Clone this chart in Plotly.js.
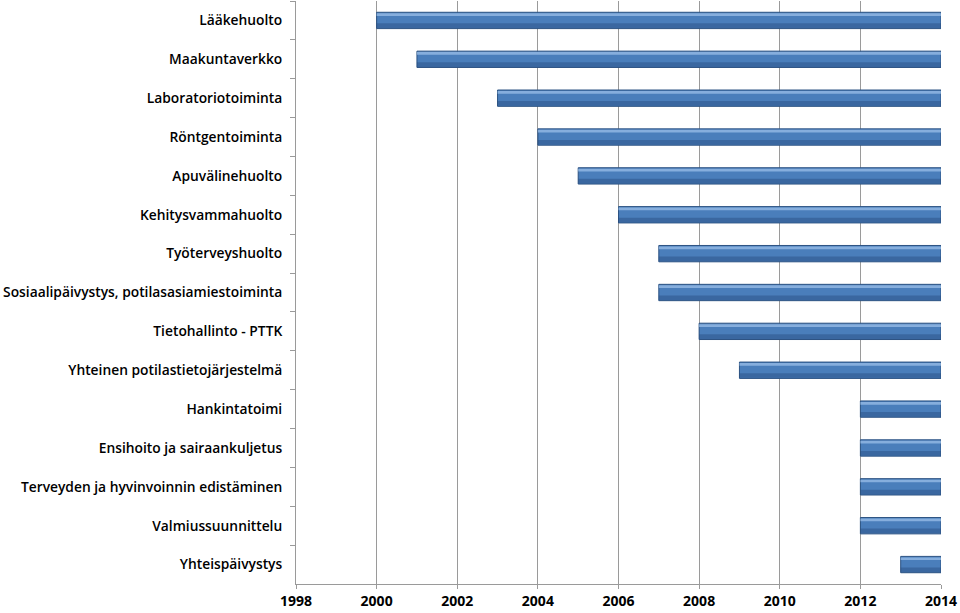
<!DOCTYPE html>
<html>
<head>
<meta charset="utf-8">
<script src="https://cdn.plot.ly/plotly-3.0.1.min.js"></script>
<style>html,body{margin:0;padding:0;background:#fff;}#chart{width:960px;height:613px;}</style>
</head>
<body>
<div id="chart"></div>
<script>
const categories = [
  "Lääkehuolto",
  "Maakuntaverkko",
  "Laboratoriotoiminta",
  "Röntgentoiminta",
  "Apuvälinehuolto",
  "Kehitysvammahuolto",
  "Työterveyshuolto",
  "Sosiaalipäivystys, potilasasiamiestoiminta",
  "Tietohallinto - PTTK",
  "Yhteinen potilastietojärjestelmä",
  "Hankintatoimi",
  "Ensihoito ja sairaankuljetus",
  "Terveyden ja hyvinvoinnin edistäminen",
  "Valmiussuunnittelu",
  "Yhteispäivystys"
];
const startYears = [2000, 2001, 2003, 2004, 2005, 2006, 2007, 2007, 2008, 2009, 2012, 2012, 2012, 2012, 2013];
const endYears   = [2014, 2014, 2014, 2014, 2014, 2014, 2014, 2014, 2014, 2014, 2014, 2014, 2014, 2014, 2014];
const tickYears  = [1998, 2000, 2002, 2004, 2006, 2008, 2010, 2012, 2014];

const durations = startYears.map((s, i) => endYears[i] - s);

const main = {
  type: 'bar', orientation: 'h',
  y: categories, x: durations, base: startYears,
  width: 0.42,
  marker: {color: '#4A7EBB', line: {color: '#2C5282', width: 1}},
  hoverinfo: 'skip'
};
const shade = {
  type: 'bar', orientation: 'h',
  y: categories, x: durations, base: startYears,
  width: 0.12, offset: 0.075,
  marker: {color: 'rgba(35,70,120,0.4)', line: {width: 0}},
  hoverinfo: 'skip'
};
const highlight = {
  type: 'bar', orientation: 'h',
  y: categories, x: durations, base: startYears,
  width: 0.07, offset: -0.185,
  marker: {color: 'rgba(160,195,235,0.7)', line: {width: 0}},
  hoverinfo: 'skip'
};

const layout = {
  width: 960, height: 613,
  margin: {l: 296, r: 19, t: 1, b: 29, pad: 0},
  paper_bgcolor: '#ffffff', plot_bgcolor: '#ffffff',
  showlegend: false,
  barmode: 'overlay',
  font: {family: '"Open Sans", Lato, sans-serif', color: '#000'},
  xaxis: {
    range: [1998, 2014],
    tickvals: tickYears, ticktext: tickYears.map(String),
    showgrid: true, gridcolor: '#9a9a9a', gridwidth: 1,
    zeroline: false,
    showline: true, linecolor: '#9a9a9a', linewidth: 1,
    ticks: 'outside', ticklen: 4, tickcolor: '#9a9a9a',
    tickfont: {family: '"Open Sans", sans-serif', size: 14, color: '#000', weight: 'bold'}
  },
  yaxis: {
    type: 'category', autorange: 'reversed',
    showline: true, linecolor: '#9a9a9a', linewidth: 1,
    ticks: 'outside', ticklen: 5, tickcolor: '#9a9a9a', tickson: 'boundaries',
    showgrid: false, zeroline: false,
    ticklabelstandoff: 10,
    tickfont: {family: '"Open Sans", sans-serif', size: 13.8, color: '#000', weight: 600}
  }
};

Plotly.newPlot('chart', [main, shade, highlight], layout, {staticPlot: true, displayModeBar: false});
</script>
</body>
</html>
